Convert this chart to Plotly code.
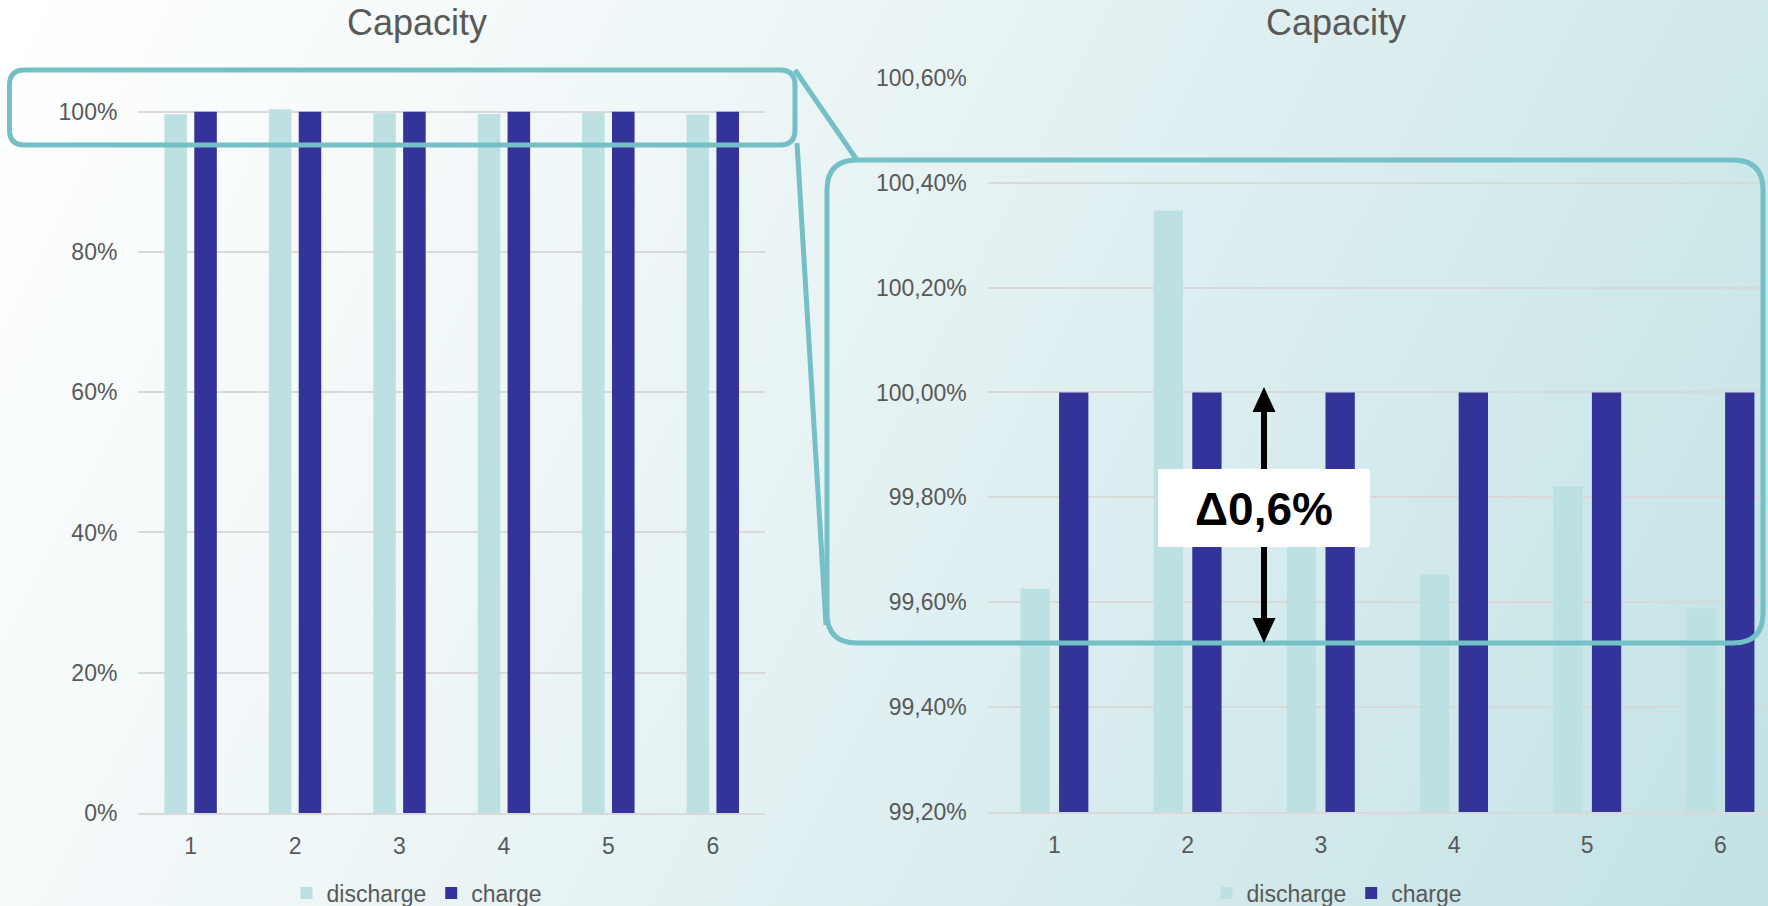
import base64
import plotly.graph_objects as go

# ---- data ----
cycles = [1, 2, 3, 4, 5, 6]
cycle_labels = ["1", "2", "3", "4", "5", "6"]
discharge = [0.99626, 1.00347, 0.99760, 0.99653, 0.99821, 0.99588]
charge = [1.0, 1.0, 1.0, 1.0, 1.0, 1.0]
left_ticks = [0.0, 0.2, 0.4, 0.6, 0.8, 1.0]
right_ticks = [0.992, 0.994, 0.996, 0.998, 1.000, 1.002, 1.004, 1.006]
delta_label = "Δ0,6%"
title_text = "Capacity"

W, H = 1768, 906
C_DIS = "#bde0e3"
C_CHG = "#333399"
C_TEXT = "#595959"
C_GRID = "#d9d9d9"
C_FRAME = "#74c0c6"
FONT = "Liberation Sans, Arial, sans-serif"


def px(x):
    return x / W


def py(y):
    return 1 - y / H


def rounded_rect(x0, y0, x1, y1, r):
    pts = [
        ("M", (x0 + r, y0)), ("L", (x1 - r, y0)),
        ("Q", (x1, y0), (x1, y0 + r)), ("L", (x1, y1 - r)),
        ("Q", (x1, y1), (x1 - r, y1)), ("L", (x0 + r, y1)),
        ("Q", (x0, y1), (x0, y1 - r)), ("L", (x0, y0 + r)),
        ("Q", (x0, y0), (x0 + r, y0)),
    ]
    out = []
    for item in pts:
        cmd = item[0]
        coords = " ".join(f"{px(a):.5f},{py(b):.5f}" for a, b in item[1:])
        out.append(f"{cmd} {coords}")
    return " ".join(out) + " Z"


def poly(points):
    s = " L ".join(f"{px(a):.5f},{py(b):.5f}" for a, b in points)
    return "M " + s + " Z"


fig = go.Figure()

# left chart: full scale
fig.add_trace(go.Bar(x=cycles, y=discharge, name="discharge", marker_color=C_DIS,
                     width=0.216, offset=-0.251, xaxis="x", yaxis="y", legend="legend"))
fig.add_trace(go.Bar(x=cycles, y=charge, name="charge", marker_color=C_CHG,
                     width=0.216, offset=0.035, xaxis="x", yaxis="y", legend="legend"))
# right chart: zoomed around 100 %
fig.add_trace(go.Bar(x=cycles, y=discharge, name="discharge", marker_color=C_DIS,
                     width=0.22, offset=-0.255, xaxis="x2", yaxis="y2", legend="legend2"))
fig.add_trace(go.Bar(x=cycles, y=charge, name="charge", marker_color=C_CHG,
                     width=0.22, offset=0.035, xaxis="x2", yaxis="y2", legend="legend2"))
fig.update_traces(marker_line_width=0, hoverinfo="x+y")

tickfont = dict(family=FONT, size=23, color=C_TEXT)

xcommon = dict(tickvals=cycles, ticktext=cycle_labels, showgrid=False, zeroline=False,
               showline=True, linecolor=C_GRID, linewidth=1.5, ticks="",
               tickfont=tickfont, ticklabelstandoff=12, fixedrange=True,
               automargin=False)
ycommon = dict(showgrid=True, gridcolor=C_GRID, gridwidth=1.5, zeroline=False,
               showline=False, ticks="", tickfont=tickfont, fixedrange=True,
               automargin=False)

# background: soft diagonal gradient
svg = (
    f'<svg xmlns="http://www.w3.org/2000/svg" width="{W}" height="{H}" '
    f'viewBox="0 0 {W} {H}" preserveAspectRatio="none">'
    '<defs><linearGradient id="g" gradientUnits="userSpaceOnUse" '
    f'x1="0" y1="0" x2="{W}" y2="{H}">'
    '<stop offset="0" stop-color="#ffffff"/>'
    '<stop offset="0.35" stop-color="#eef6f7"/>'
    '<stop offset="1" stop-color="#c2e2e5"/>'
    '</linearGradient></defs>'
    f'<rect width="{W}" height="{H}" fill="url(#g)"/></svg>'
)
bg_src = "data:image/svg+xml;base64," + base64.b64encode(svg.encode()).decode()

shapes = []
frame = dict(type="path", xref="paper", yref="paper", line=dict(color=C_FRAME, width=5))
# highlight box on the full-scale chart
shapes.append(dict(frame, path=rounded_rect(9.5, 70, 795, 145, 15)))
# zoomed region box
shapes.append(dict(frame, path=rounded_rect(827, 160, 1763, 643, 30)))
# connectors between the two boxes
shapes.append(dict(type="line", xref="paper", yref="paper",
                   x0=px(795), y0=py(70), x1=px(857), y1=py(160),
                   line=dict(color=C_FRAME, width=5)))
shapes.append(dict(type="line", xref="paper", yref="paper",
                   x0=px(797), y0=py(143), x1=px(826), y1=py(625),
                   line=dict(color=C_FRAME, width=5)))
# double-headed arrow showing the spread
ax, top_tip, bot_tip, head = 1264, 387, 643, 25
shapes.append(dict(type="line", xref="paper", yref="paper",
                   x0=px(ax), y0=py(top_tip + head - 2), x1=px(ax), y1=py(bot_tip - head + 2),
                   line=dict(color="black", width=6)))
shapes.append(dict(type="path", xref="paper", yref="paper", fillcolor="black",
                   line=dict(width=0),
                   path=poly([(ax, top_tip), (ax + 11.5, top_tip + head), (ax - 11.5, top_tip + head)])))
shapes.append(dict(type="path", xref="paper", yref="paper", fillcolor="black",
                   line=dict(width=0),
                   path=poly([(ax, bot_tip), (ax + 11.5, bot_tip - head), (ax - 11.5, bot_tip - head)])))
# label background
shapes.append(dict(type="rect", xref="paper", yref="paper", fillcolor="white",
                   line=dict(width=0), x0=px(1158), x1=px(1370), y0=py(547), y1=py(469)))

annotations = [
    dict(text=title_text, x=px(417), y=py(22), xref="paper", yref="paper",
         showarrow=False, xanchor="center", yanchor="middle",
         font=dict(family=FONT, size=36, color=C_TEXT)),
    dict(text=title_text, x=px(1336), y=py(22), xref="paper", yref="paper",
         showarrow=False, xanchor="center", yanchor="middle",
         font=dict(family=FONT, size=36, color=C_TEXT)),
    dict(text=f"<b>{delta_label}</b>", x=px(1264), y=py(509), xref="paper", yref="paper",
         showarrow=False, xanchor="center", yanchor="middle",
         font=dict(family=FONT, size=46, color="black")),
]

legend_style = dict(orientation="h", xanchor="center", yanchor="middle",
                    xref="container", yref="container",
                    y=py(893), bgcolor="rgba(0,0,0,0)",
                    font=dict(family=FONT, size=23, color=C_TEXT),
                    itemclick=False, itemdoubleclick=False)

fig.update_layout(
    template="none",
    width=W, height=H, autosize=False,
    margin=dict(l=0, r=0, t=0, b=0, pad=0, autoexpand=False),
    paper_bgcolor="white", plot_bgcolor="rgba(0,0,0,0)",
    separators=",.",
    barmode="overlay",
    showlegend=True,
    images=[dict(source=bg_src, xref="paper", yref="paper", x=0, y=1,
                 sizex=1, sizey=1, sizing="stretch", layer="below",
                 xanchor="left", yanchor="top")],
    xaxis=dict(xcommon, domain=[px(138.4), px(765)], range=[0.5, 6.5], anchor="y"),
    yaxis=dict(ycommon, domain=[py(813), py(97.6)], range=[0, 1.02],
               tickvals=left_ticks, tickformat=".0%", ticklabelstandoff=20, anchor="x"),
    xaxis2=dict(xcommon, domain=[px(987.8), 1.0], range=[0.5, 6.357], anchor="y2"),
    yaxis2=dict(ycommon, domain=[py(812), py(77.8)], range=[0.992, 1.006],
                tickvals=right_ticks, tickformat=".2%", ticklabelstandoff=20, anchor="x2"),
    legend=dict(legend_style, x=px(417)),
    legend2=dict(legend_style, x=px(1337)),
    shapes=shapes,
    annotations=annotations,
)

fig.write_html("out.html")
